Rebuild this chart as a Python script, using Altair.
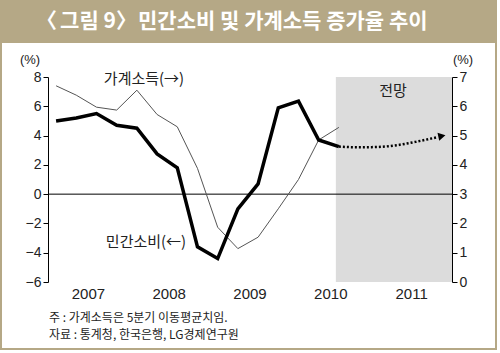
import altair as alt
import pandas as pd

# ---- data ----
quarters = ["2007Q1", "2007Q2", "2007Q3", "2007Q4",
            "2008Q1", "2008Q2", "2008Q3", "2008Q4",
            "2009Q1", "2009Q2", "2009Q3", "2009Q4",
            "2010Q1", "2010Q2", "2010Q3"]
consumption = [5.0, 5.2, 5.5, 4.7, 4.5, 2.75, 1.8, -3.6, -4.4, -1.0, 0.7, 5.9, 6.35, 3.7, 3.25]
income = [6.7, 6.38, 5.97, 5.87, 6.55, 5.72, 5.3, 3.88, 1.87, 1.14, 1.53, 2.5, 3.5, 4.85, 5.28]
forecast_t = [14.4, 15.3, 16.3, 17.3, 18.3, 19.25]
forecast_v = [3.25, 3.2, 3.22, 3.35, 3.6, 3.88]
arrow_t = [19.5]
arrow_v = [3.97]
years = ["2007", "2008", "2009", "2010", "2011"]
year_t = [2, 6, 10, 14, 18]
year_ticks = [0, 4, 8, 12, 16, 20]
left_ticks = [-6, -4, -2, 0, 2, 4, 6, 8]
right_ticks = [0, 1, 2, 3, 4, 5, 6, 7]
shade_from, shade_to = 14.25, 20

t_index = [i + 0.4 for i in range(len(quarters))]

W, H = 404, 205
KR = "Noto Sans CJK KR"
NUM = "Liberation Sans"
TAN = "#b5a886"

xs = alt.Scale(domain=[0, 20], nice=False, zero=False)
ls = alt.Scale(domain=[-6, 8], nice=False, zero=False)
rs = alt.Scale(domain=[0, 7], nice=False, zero=False)

df = pd.DataFrame({"q": quarters, "t": t_index, "cons": consumption, "inc": income})
fdf = pd.DataFrame({"t": forecast_t, "v": forecast_v})
adf = pd.DataFrame({"t": arrow_t, "v": arrow_v})
ydf = pd.DataFrame({"year": years, "t": year_t})
shade = pd.DataFrame({"a": [shade_from], "b": [shade_to], "lo": [-6], "hi": [8]})
zero = pd.DataFrame({"a": [0], "b": [20], "y": [0]})

axis_style = dict(domainColor="black", tickColor="black", tickSize=5,
                  labelFont=NUM, labelFontSize=14, labelColor="#222",
                  grid=False, title=None, domainWidth=1, tickWidth=1)

band = alt.Chart(pd.DataFrame({"k": [0]})).mark_rect(color=TAN).encode(
    x=alt.value(-48), x2=alt.value(449), y=alt.value(-77), y2=alt.value(-34))
frame = alt.Chart(pd.DataFrame({"k": [0]})).mark_rect(
    fillOpacity=0, stroke=TAN, strokeWidth=2).encode(
    x=alt.value(-47), x2=alt.value(448), y=alt.value(-77), y2=alt.value(272))


def label(s, x, y, size=13, align="center", font=KR, color="#222", weight="normal"):
    return alt.Chart(pd.DataFrame({"s": [s]})).mark_text(
        font=font, fontSize=size, color=color, align=align, baseline="middle",
        fontWeight=weight
    ).encode(text="s:N", x=alt.value(x), y=alt.value(y))


title_parts = [
    label("〈", 9, -55, 21, align="right", color="white", weight="bold"),
    label("그림 9", 40, -55, 21, align="center", color="white", weight="bold"),
    label("〉", 68, -55, 21, align="left", color="white", weight="bold"),
    label("민간소비 및 가계소득 증가율 추이", 90, -55, 21, align="left", color="white", weight="bold"),
]

shade_l = alt.Chart(shade).mark_rect(color="#dcdcdc").encode(
    x=alt.X("a:Q", scale=xs, axis=None), x2="b:Q",
    y=alt.Y("lo:Q", scale=ls, axis=None), y2="hi:Q")
zero_l = alt.Chart(zero).mark_rule(color="black", strokeWidth=1).encode(
    x=alt.X("a:Q", scale=xs, axis=None), x2="b:Q",
    y=alt.Y("y:Q", scale=ls, axis=None))
inc_l = alt.Chart(df).mark_line(color="#555555", strokeWidth=1).encode(
    x=alt.X("t:Q", scale=xs, axis=None),
    y=alt.Y("inc:Q", scale=rs, axis=alt.Axis(orient="right", values=right_ticks, **axis_style)))
cons_l = alt.Chart(df).mark_line(color="black", strokeWidth=3.5, strokeJoin="miter").encode(
    x=alt.X("t:Q", scale=xs, axis=alt.Axis(values=year_ticks, labels=False, **axis_style)),
    y=alt.Y("cons:Q", scale=ls, axis=alt.Axis(orient="left", values=left_ticks, **axis_style)))
fc_l = alt.Chart(fdf).mark_line(color="black", strokeWidth=2.5, strokeDash=[2, 2],
                                interpolate="monotone").encode(
    x=alt.X("t:Q", scale=xs, axis=None), y=alt.Y("v:Q", scale=ls, axis=None))
arr_l = alt.Chart(adf).mark_point(shape="triangle-right", filled=True, color="black",
                                  size=70, opacity=1, angle=348).encode(
    x=alt.X("t:Q", scale=xs, axis=None), y=alt.Y("v:Q", scale=ls, axis=None))
year_l = alt.Chart(ydf).mark_text(font=NUM, fontSize=15, color="#222", baseline="middle").encode(
    x=alt.X("t:Q", scale=xs, axis=None), y=alt.value(217), text="year:N")

texts = [
    label("(%)", -18, -17, 13, font=NUM),
    label("(%)", 415, -17, 13, font=NUM),
    label("가계소득(→)", 96, 2, 15),
    label("민간소비(←)", 98, 165, 15),
    label("전망", 345, 14, 15),
    label("주 : 가계소득은 5분기 이동평균치임.", 1, 241, 12, align="left"),
    label("자료 : 통계청, 한국은행, LG경제연구원", 1, 258, 12, align="left"),
]

chart = alt.layer(
    band, frame, *title_parts, shade_l, zero_l, inc_l, cons_l, fc_l, arr_l, year_l, *texts
).resolve_scale(y="independent").properties(
    width=W, height=H,
    autosize=alt.AutoSizeParams(type="none"),
    padding={"left": 48, "top": 77, "right": 48, "bottom": 71},
    background="white",
).configure_view(stroke=None)

chart.save("out.html", embed_options={"renderer": "svg", "actions": False})
